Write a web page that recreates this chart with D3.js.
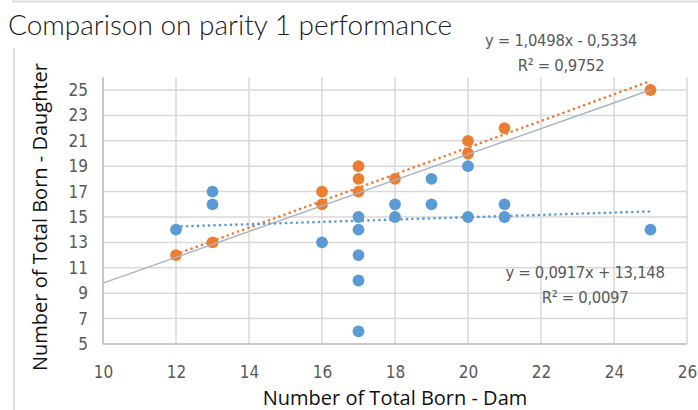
<!DOCTYPE html>
<html>
<head>
<meta charset="utf-8">
<script src="https://cdn.jsdelivr.net/npm/d3@7"></script>
<style>
body{margin:0;background:#fff}
</style>
</head>
<body>
<div id="graph"></div>
<script>
"use strict"
// dam vs daughter total born, parity 1
var blueDam=[12,13,13,16,17,17,17,17,17,18,18,19,19,20,20,21,21,25]
var blueDaughter=[14,17,16,13,15,14,12,10,6,16,15,18,16,19,15,16,15,14]
var orangeDam=[12,13,16,16,17,17,17,18,20,20,21,25]
var orangeDaughter=[12,13,17,16,19,18,17,18,21,20,22,25]
var xTicks=[10,12,14,16,18,20,22,24,26]
var yTicks=[5,7,9,11,13,15,17,19,21,23,25]
// trendlines (slope, intercept, from, to) and the grey reference line
var orangeTrend=[1.0498,-0.5334,12,25]
var blueTrend=[0.0917,13.148,12,25]
var refLine=[[10,9.8],[25,25]]
var orangeLabel=['y = 1,0498x - 0,5334','R\u00b2 = 0,9752']
var blueLabel=['y = 0,0917x + 13,148','R\u00b2 = 0,0097']

var BLUE='#5b9bd5',ORANGE='#ed7d31',GRID='#d9d9d9'
var NARROW='"Liberation Sans Narrow","DejaVu Sans Condensed",sans-serif'

function trendPoints(t){
  return [[t[2],t[0]*t[2]+t[1]],[t[3],t[0]*t[3]+t[1]]]
}

function draw(){
  var svg=d3.select('#graph').append('svg').attr('width',698).attr('height',410)
  var x=d3.scaleLinear().domain([10,26]).range([103,687])
  var y=d3.scaleLinear().domain([5,26]).range([344,77.3])

  // frame bits of the slide
  svg.append('line').attr('x1',12).attr('x2',698).attr('y1',1.5).attr('y2',1.5).attr('stroke','#dedede').attr('stroke-width',2)
  svg.append('line').attr('x1',14).attr('x2',14).attr('y1',48).attr('y2',410).attr('stroke','#dedede').attr('stroke-width',2)

  // grid
  var g=svg.append('g')
  g.selectAll('.hg').data(yTicks).enter().append('line')
    .attr('x1',x(10)).attr('x2',x(26)).attr('y1',function(d){return y(d)}).attr('y2',function(d){return y(d)})
    .attr('stroke',GRID).attr('stroke-width',1.5)
  g.selectAll('.vg').data(xTicks).enter().append('line')
    .attr('y1',y(5)).attr('y2',y(26)).attr('x1',function(d){return x(d)}).attr('x2',function(d){return x(d)})
    .attr('stroke',GRID).attr('stroke-width',1.5)
  g.append('line').attr('x1',x(10)).attr('x2',x(26)).attr('y1',y(5)).attr('y2',y(5)).attr('stroke','#bfbfbf').attr('stroke-width',1.5)
  g.append('line').attr('x1',x(10)).attr('x2',x(10)).attr('y1',y(5)).attr('y2',y(26)).attr('stroke','#bfbfbf').attr('stroke-width',1.5)

  // tick labels via axes, domain and ticks hidden
  var ax=svg.append('g').attr('transform','translate(0,'+y(5)+')')
    .call(d3.axisBottom(x).tickValues(xTicks).tickSize(0).tickPadding(22))
  var ay=svg.append('g').attr('transform','translate('+x(10)+',0)')
    .call(d3.axisLeft(y).tickValues(yTicks).tickSize(0).tickPadding(15))
  ;[ax,ay].forEach(function(a){
    a.select('.domain').remove()
    a.selectAll('text').attr('font-family',NARROW).attr('font-size',17).attr('fill','#595959')
  })

  // points
  svg.selectAll('.b').data(blueDam).enter().append('circle')
    .attr('cx',function(d){return x(d)}).attr('cy',function(d,i){return y(blueDaughter[i])})
    .attr('r',5.9).attr('fill',BLUE)
  svg.selectAll('.o').data(orangeDam).enter().append('circle')
    .attr('cx',function(d){return x(d)}).attr('cy',function(d,i){return y(orangeDaughter[i])})
    .attr('r',5.9).attr('fill',ORANGE)

  // lines
  var line=d3.line().x(function(d){return x(d[0])}).y(function(d){return y(d[1])})
  svg.append('path').attr('d',line(refLine)).attr('stroke','#aab3c2').attr('stroke-width',1.4).attr('fill','none')
  svg.append('path').attr('d',line(trendPoints(orangeTrend))).attr('stroke',ORANGE).attr('stroke-width',2.6)
    .attr('stroke-dasharray','0.1,5.4').attr('stroke-linecap','round').attr('fill','none')
  svg.append('path').attr('d',line(trendPoints(blueTrend))).attr('stroke',BLUE).attr('stroke-width',2.6)
    .attr('stroke-dasharray','0.1,5.4').attr('stroke-linecap','round').attr('fill','none')

  // equation labels
  function eq(lines,cx,by){
    svg.append('text').attr('x',cx).attr('y',by).attr('text-anchor','middle').attr('font-family',NARROW)
      .attr('font-size',16.5).attr('fill','#595959').attr('letter-spacing',-0.3).text(lines[0])
    svg.append('text').attr('x',cx).attr('y',by+25).attr('text-anchor','middle').attr('font-family',NARROW)
      .attr('font-size',16.5).attr('fill','#595959').attr('letter-spacing',-0.3).text(lines[1])
  }
  eq(orangeLabel,561,46)
  eq(blueLabel,585,278)

  // titles
  svg.append('text').attr('x',8).attr('y',35).attr('font-family','Lato,"Open Sans",sans-serif').attr('font-weight',300)
    .attr('font-size',28).attr('fill','#1a1a1a').text('Comparison on parity 1 performance')
  svg.append('text').attr('x',395).attr('y',405).attr('text-anchor','middle').attr('font-family','"Open Sans",sans-serif')
    .attr('font-size',20).attr('fill','#111').text('Number of Total Born - Dam')
  svg.append('text').attr('transform','translate(47,217)rotate(-90)').attr('text-anchor','middle').attr('font-family','"Open Sans",sans-serif')
    .attr('font-size',20).attr('fill','#111').text('Number of Total Born - Daughter')
}

draw()
</script>
</body>
</html>
